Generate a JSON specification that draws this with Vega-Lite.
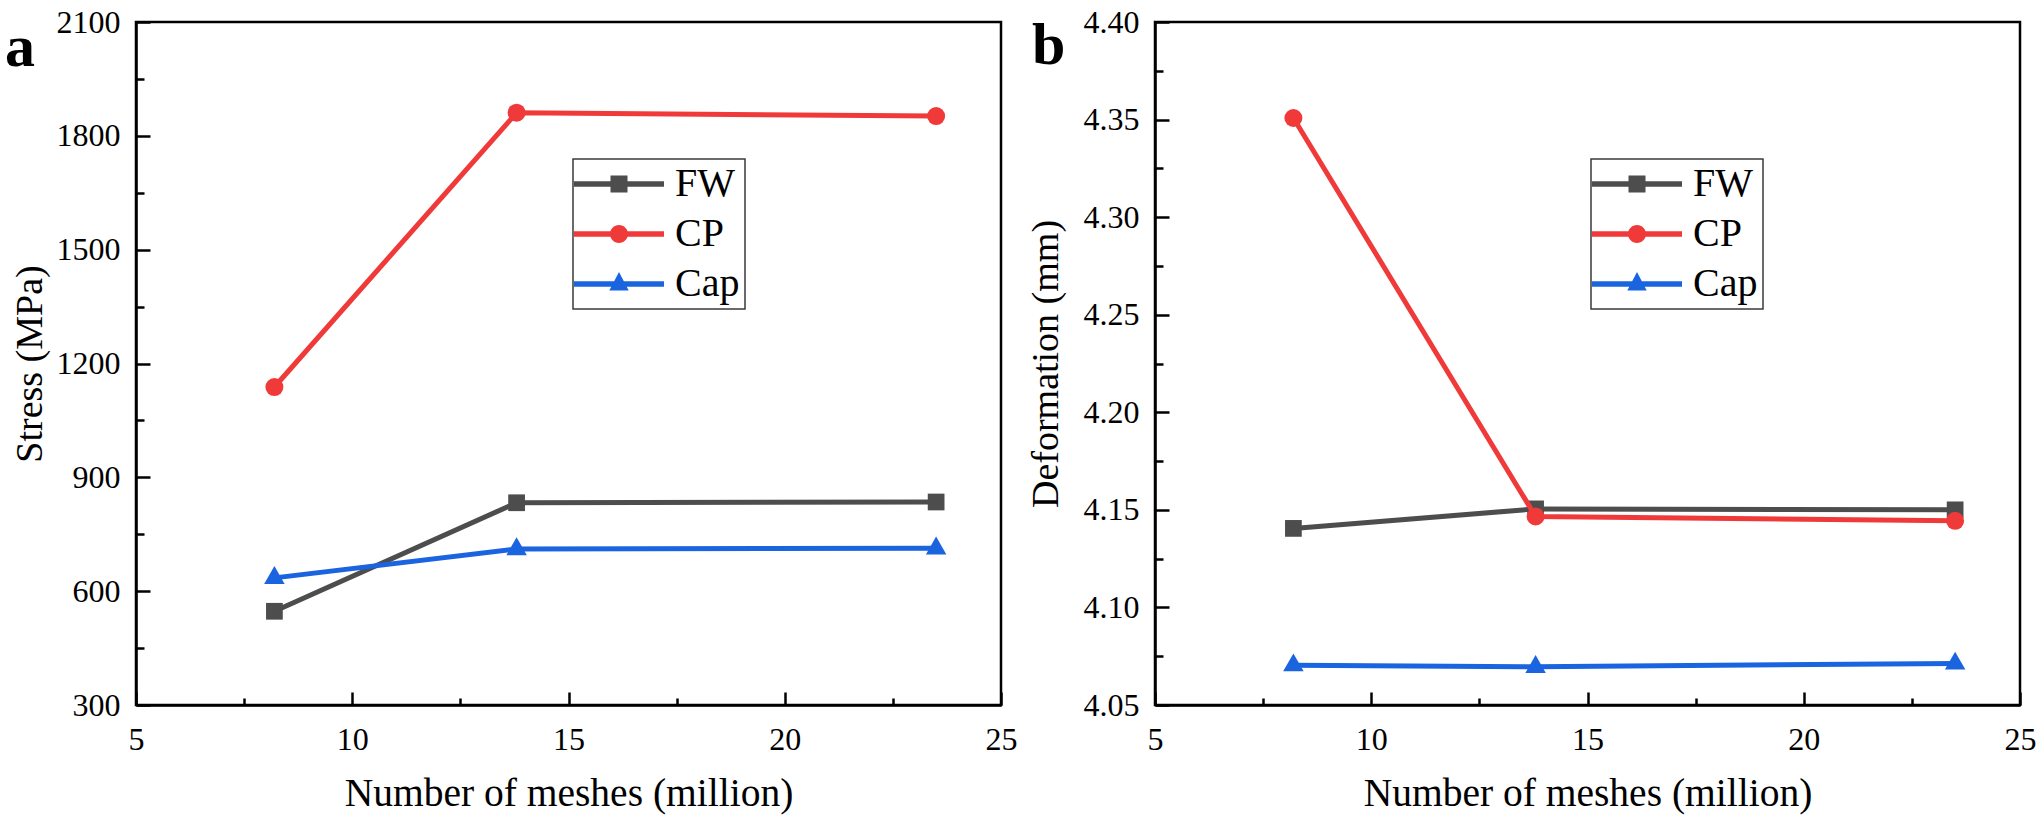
{
  "$schema": "https://vega.github.io/schema/vega-lite/v6.json",
  "autosize": {"type": "pad"},
  "padding": {"left": 3, "top": 4, "right": 4, "bottom": 11},
  "background": "white",
  "datasets": {
    "stress": [
      {"mesh": 8.2, "series": "FW", "value": 547},
      {"mesh": 13.8, "series": "FW", "value": 833},
      {"mesh": 23.5, "series": "FW", "value": 835},
      {"mesh": 8.2, "series": "CP", "value": 1138},
      {"mesh": 13.8, "series": "CP", "value": 1861},
      {"mesh": 23.5, "series": "CP", "value": 1852},
      {"mesh": 8.2, "series": "Cap", "value": 635},
      {"mesh": 13.8, "series": "Cap", "value": 711},
      {"mesh": 23.5, "series": "Cap", "value": 713}
    ],
    "deform": [
      {"mesh": 8.2, "series": "FW", "value": 4.1405},
      {"mesh": 13.8, "series": "FW", "value": 4.1505},
      {"mesh": 23.5, "series": "FW", "value": 4.1500},
      {"mesh": 8.2, "series": "CP", "value": 4.3508},
      {"mesh": 13.8, "series": "CP", "value": 4.1466},
      {"mesh": 23.5, "series": "CP", "value": 4.1444},
      {"mesh": 8.2, "series": "Cap", "value": 4.0704},
      {"mesh": 13.8, "series": "Cap", "value": 4.0696},
      {"mesh": 23.5, "series": "Cap", "value": 4.0713}
    ]
  },
  "spacing": 154,
  "bounds": "flush",
  "resolve": {
    "scale": {"color": "independent", "shape": "independent"},
    "legend": {"color": "independent", "shape": "independent"}
  },
  "hconcat": [
    {
      "width": 865,
      "height": 683,
      "title": {"text": "a", "anchor": "start", "frame": "group", "orient": "top", "dx": -131, "offset": -40, "dy": 80, "baseline": "alphabetic", "fontSize": 60, "fontWeight": "bold", "font": "Liberation Serif", "color": "black"},
      "data": {"name": "stress"},
      "encoding": {
        "x": {
          "field": "mesh", "type": "quantitative",
          "scale": {"domain": [5, 25], "nice": false, "zero": false},
          "axis": {
            "values": [5, 7.5, 10, 12.5, 15, 17.5, 20, 22.5, 25],
            "labelExpr": "datum.value % 5 === 0 ? datum.label : ''",
            "tickSize": {"condition": {"test": "datum.value % 5 === 0", "value": -13}, "value": -7},
            "labelPadding": 32,
            "labelFlush": false,
            "labelOverlap": false,
            "title": "Number of meshes (million)",
            "titleFontSize": 39.5,
            "titleY": 100,
            "titleBaseline": "alphabetic"
          }
        },
        "y": {
          "field": "value", "type": "quantitative",
          "scale": {"domain": [300, 2100], "nice": false, "zero": false},
          "axis": {
            "values": [300, 450, 600, 750, 900, 1050, 1200, 1350, 1500, 1650, 1800, 1950, 2100],
            "format": "d",
            "labelExpr": "datum.value % 300 === 0 ? datum.label : ''",
            "tickSize": {"condition": {"test": "datum.value % 300 === 0", "value": -14}, "value": -8},
            "labelPadding": 30,
            "labelFlush": false,
            "labelOverlap": false,
            "title": "Stress (MPa)",
            "titleX": -95,
            "titleY": 341.5,
            "titleAngle": -90,
            "titleBaseline": "alphabetic"
          }
        }
      },
      "layer": [
        {"transform": [{"filter": "datum.series === 'FW'"}], "mark": {"type": "line", "strokeWidth": 5, "color": "#4d4d4d"}},
        {"transform": [{"filter": "datum.series === 'FW'"}], "mark": {"type": "point", "filled": true, "opacity": 1, "shape": "square", "size": 280, "color": "#4d4d4d"}},
        {"transform": [{"filter": "datum.series === 'CP'"}], "mark": {"type": "line", "strokeWidth": 5, "color": "#f03a3a"}},
        {"transform": [{"filter": "datum.series === 'CP'"}], "mark": {"type": "point", "filled": true, "opacity": 1, "shape": "circle", "size": 324, "color": "#f03a3a"}},
        {"transform": [{"filter": "datum.series === 'Cap'"}], "mark": {"type": "line", "strokeWidth": 5, "color": "#1a64e0"}},
        {"transform": [{"filter": "datum.series === 'Cap'"}], "mark": {"type": "point", "filled": true, "opacity": 1, "shape": "M0,-1.15L1,0.6L-1,0.6Z", "size": 420, "color": "#1a64e0"}},
        {
          "mark": {"type": "point", "filled": true, "opacity": 0},
          "encoding": {
            "color": {
              "field": "series", "type": "nominal",
              "scale": {"domain": ["FW", "CP", "Cap"], "range": ["#4d4d4d", "#f03a3a", "#1a64e0"]},
              "legend": {"title": null, "orient": "none", "legendX": 437, "legendY": 137}
            },
            "shape": {
              "field": "series", "type": "nominal",
              "scale": {"domain": ["FW", "CP", "Cap"], "range": [
                "M-2.4,-0.28H6.6V0.28H-2.4ZM1.25,-0.85H2.95V0.85H1.25Z",
                "M-2.4,-0.28H6.6V0.28H-2.4ZM1.2,0A0.9 0.9 0 1 1 3,0A0.9 0.9 0 1 1 1.2,0Z",
                "M-2.4,-0.28H6.6V0.28H-2.4ZM2.1,-1.2L3.07,0.65L1.13,0.65Z"
              ]},
              "legend": {"title": null, "orient": "none", "legendX": 437, "legendY": 137}
            }
          }
        }
      ]
    },
    {
      "width": 865,
      "height": 683,
      "title": {"text": "b", "anchor": "start", "frame": "group", "orient": "top", "dx": -123, "offset": -40, "dy": 78, "baseline": "alphabetic", "fontSize": 60, "fontWeight": "bold", "font": "Liberation Serif", "color": "black"},
      "data": {"name": "deform"},
      "encoding": {
        "x": {
          "field": "mesh", "type": "quantitative",
          "scale": {"domain": [5, 25], "nice": false, "zero": false},
          "axis": {
            "values": [5, 7.5, 10, 12.5, 15, 17.5, 20, 22.5, 25],
            "labelExpr": "datum.value % 5 === 0 ? datum.label : ''",
            "tickSize": {"condition": {"test": "datum.value % 5 === 0", "value": -13}, "value": -7},
            "labelPadding": 32,
            "labelFlush": false,
            "labelOverlap": false,
            "title": "Number of meshes (million)",
            "titleFontSize": 39.5,
            "titleY": 100,
            "titleBaseline": "alphabetic"
          }
        },
        "y": {
          "field": "value", "type": "quantitative",
          "scale": {"domain": [4.05, 4.4], "nice": false, "zero": false},
          "axis": {
            "values": [4.05, 4.075, 4.1, 4.125, 4.15, 4.175, 4.2, 4.225, 4.25, 4.275, 4.3, 4.325, 4.35, 4.375, 4.4],
            "format": ".2f",
            "labelExpr": "abs(datum.value * 20 - round(datum.value * 20)) < 0.000001 ? datum.label : ''",
            "tickSize": {"condition": {"test": "abs(datum.value * 20 - round(datum.value * 20)) < 0.000001", "value": -14}, "value": -8},
            "labelPadding": 30,
            "labelFlush": false,
            "labelOverlap": false,
            "title": "Deformation (mm)",
            "titleX": -98,
            "titleY": 341.5,
            "titleAngle": -90,
            "titleBaseline": "alphabetic"
          }
        }
      },
      "layer": [
        {"transform": [{"filter": "datum.series === 'FW'"}], "mark": {"type": "line", "strokeWidth": 5, "color": "#4d4d4d"}},
        {"transform": [{"filter": "datum.series === 'FW'"}], "mark": {"type": "point", "filled": true, "opacity": 1, "shape": "square", "size": 280, "color": "#4d4d4d"}},
        {"transform": [{"filter": "datum.series === 'CP'"}], "mark": {"type": "line", "strokeWidth": 5, "color": "#f03a3a"}},
        {"transform": [{"filter": "datum.series === 'CP'"}], "mark": {"type": "point", "filled": true, "opacity": 1, "shape": "circle", "size": 324, "color": "#f03a3a"}},
        {"transform": [{"filter": "datum.series === 'Cap'"}], "mark": {"type": "line", "strokeWidth": 5, "color": "#1a64e0"}},
        {"transform": [{"filter": "datum.series === 'Cap'"}], "mark": {"type": "point", "filled": true, "opacity": 1, "shape": "M0,-1.15L1,0.6L-1,0.6Z", "size": 420, "color": "#1a64e0"}},
        {
          "mark": {"type": "point", "filled": true, "opacity": 0},
          "encoding": {
            "color": {
              "field": "series", "type": "nominal",
              "scale": {"domain": ["FW", "CP", "Cap"], "range": ["#4d4d4d", "#f03a3a", "#1a64e0"]},
              "legend": {"title": null, "orient": "none", "legendX": 436, "legendY": 137}
            },
            "shape": {
              "field": "series", "type": "nominal",
              "scale": {"domain": ["FW", "CP", "Cap"], "range": [
                "M-2.4,-0.28H6.6V0.28H-2.4ZM1.25,-0.85H2.95V0.85H1.25Z",
                "M-2.4,-0.28H6.6V0.28H-2.4ZM1.2,0A0.9 0.9 0 1 1 3,0A0.9 0.9 0 1 1 1.2,0Z",
                "M-2.4,-0.28H6.6V0.28H-2.4ZM2.1,-1.2L3.07,0.65L1.13,0.65Z"
              ]},
              "legend": {"title": null, "orient": "none", "legendX": 436, "legendY": 137}
            }
          }
        }
      ]
    }
  ],
  "config": {
    "font": "Liberation Serif",
    "view": {"stroke": "black", "strokeWidth": 2.5},
    "axis": {
      "grid": false,
      "domainColor": "black",
      "domainWidth": 2.5,
      "tickColor": "black",
      "tickWidth": 2.5,
      "labelFont": "Liberation Serif",
      "labelFontSize": 32,
      "labelColor": "black",
      "titleFont": "Liberation Serif",
      "titleFontSize": 38,
      "titleFontWeight": "normal",
      "titleColor": "black"
    },
    "legend": {
      "symbolSize": 400,
      "symbolOpacity": 1,
      "symbolStrokeWidth": 0,
      "labelFont": "Liberation Serif",
      "labelFontSize": 40,
      "labelColor": "black",
      "labelOffset": 57,
      "rowPadding": 10,
      "padding": 5,
      "strokeColor": "#3a3a3a",
      "strokeWidth": 1.5,
      "fillColor": "white"
    }
  }
}
